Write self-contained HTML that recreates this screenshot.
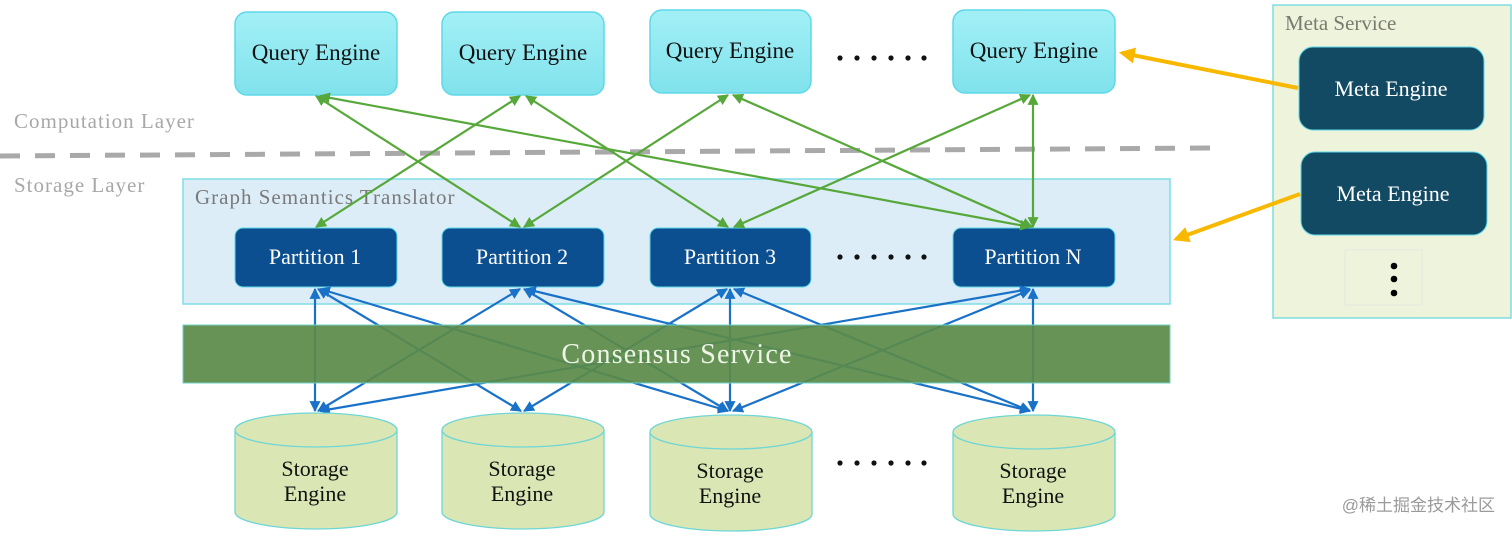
<!DOCTYPE html>
<html><head><meta charset="utf-8"><style>
body{margin:0;background:#fff;width:1512px;height:533px;overflow:hidden}
text{font-family:"Liberation Serif",serif}
</style></head><body>
<svg width="1512" height="533" viewBox="0 0 1512 533" xmlns="http://www.w3.org/2000/svg">
<defs>
<linearGradient id="qg" x1="0" y1="0" x2="0" y2="1"><stop offset="0" stop-color="#a3f0f6"/><stop offset="1" stop-color="#80e2ec"/></linearGradient>
<marker id="ga" viewBox="0 0 10 10" refX="9" refY="5" markerWidth="5" markerHeight="5" orient="auto-start-reverse"><path d="M0,0L10,5L0,10z" fill="#57a83a"/></marker>
<marker id="ba" viewBox="0 0 10 10" refX="9" refY="5" markerWidth="5" markerHeight="5" orient="auto-start-reverse"><path d="M0,0L10,5L0,10z" fill="#1a72c8"/></marker>
<marker id="ya" viewBox="0 0 10 10" refX="8" refY="5" markerWidth="4" markerHeight="4" orient="auto"><path d="M0,0L10,5L0,10z" fill="#f8b800"/></marker>
</defs>
<text x="14" y="128" font-size="21" letter-spacing="1" fill="#a8a8a8">Computation Layer</text>
<text x="14" y="192" font-size="21" letter-spacing="1" fill="#a8a8a8">Storage Layer</text>
<line x1="0" y1="156" x2="1212" y2="148" stroke="#a9a9a9" stroke-width="5" stroke-dasharray="20 15"/>
<rect x="183" y="179" width="987" height="125" fill="#dcedf7" stroke="#7fdde6" stroke-width="1.5"/>
<text x="195" y="204" font-size="21" letter-spacing="1" fill="#7a7a7a">Graph Semantics Translator</text>
<g fill="url(#qg)" stroke="#5ed8e8" stroke-width="1.5">
<rect x="235" y="12" width="162" height="83" rx="12"/>
<rect x="442" y="12" width="162" height="83" rx="12"/>
<rect x="650" y="10" width="161" height="83" rx="12"/>
<rect x="953" y="10" width="162" height="83" rx="12"/>
</g>
<g font-size="23" text-anchor="middle" fill="#111">
<text x="316" y="60">Query Engine</text><text x="523" y="60">Query Engine</text>
<text x="730" y="58">Query Engine</text><text x="1034" y="58">Query Engine</text>
</g>
<g fill="#0c4f90" stroke="#5ed8e8" stroke-width="1">
<rect x="235" y="228" width="162" height="59" rx="8"/>
<rect x="442" y="228" width="162" height="59" rx="8"/>
<rect x="650" y="228" width="161" height="59" rx="8"/>
<rect x="953" y="228" width="162" height="59" rx="8"/>
</g>
<g font-size="22" text-anchor="middle" fill="#fff">
<text x="315" y="264">Partition 1</text><text x="522" y="264">Partition 2</text>
<text x="730" y="264">Partition 3</text><text x="1033" y="264">Partition N</text>
</g>
<g stroke="#57a83a" stroke-width="2.2" marker-start="url(#ga)" marker-end="url(#ga)">
<line x1="316" y1="96" x2="520" y2="227"/>
<line x1="320" y1="96" x2="1030" y2="227"/>
<line x1="520" y1="96" x2="316" y2="227"/>
<line x1="526" y1="96" x2="728" y2="227"/>
<line x1="728" y1="95" x2="524" y2="227"/>
<line x1="733" y1="95" x2="1032" y2="227"/>
<line x1="1030" y1="95" x2="734" y2="227"/>
<line x1="1033" y1="95" x2="1033" y2="227"/>
</g>
<g stroke="#1a72c8" stroke-width="2.2" marker-start="url(#ba)" marker-end="url(#ba)">
<line x1="315" y1="289" x2="315" y2="411"/>
<line x1="318" y1="289" x2="521" y2="411"/>
<line x1="320" y1="289" x2="728" y2="411"/>
<line x1="520" y1="289" x2="318" y2="411"/>
<line x1="524" y1="289" x2="728" y2="411"/>
<line x1="526" y1="289" x2="1030" y2="411"/>
<line x1="727" y1="289" x2="524" y2="411"/>
<line x1="730" y1="289" x2="730" y2="411"/>
<line x1="734" y1="289" x2="1030" y2="411"/>
<line x1="1030" y1="289" x2="320" y2="411"/>
<line x1="1030" y1="290" x2="733" y2="411"/>
<line x1="1033" y1="289" x2="1033" y2="411"/>
</g>
<rect x="183" y="325" width="987" height="58" fill="#5a8a48" fill-opacity="0.92" stroke="#6fd0c8" stroke-width="1"/>
<text x="677" y="363" font-size="28" letter-spacing="1.2" text-anchor="middle" fill="#eef5e8">Consensus Service</text>
<g fill="#dbe6b5" stroke="#6fd6d6" stroke-width="1.3">
<path d="M235,430 v82 a81,17 0 0 0 162,0 v-82"/><ellipse cx="316" cy="430" rx="81" ry="17"/>
<path d="M442,430 v82 a81,17 0 0 0 162,0 v-82"/><ellipse cx="523" cy="430" rx="81" ry="17"/>
<path d="M650,432 v82 a81,17 0 0 0 162,0 v-82"/><ellipse cx="731" cy="432" rx="81" ry="17"/>
<path d="M953,432 v82 a81,17 0 0 0 162,0 v-82"/><ellipse cx="1034" cy="432" rx="81" ry="17"/>
</g>
<g font-size="22" text-anchor="middle" fill="#111">
<text x="315" y="476">Storage</text><text x="315" y="501">Engine</text>
<text x="522" y="476">Storage</text><text x="522" y="501">Engine</text>
<text x="730" y="478">Storage</text><text x="730" y="503">Engine</text>
<text x="1033" y="478">Storage</text><text x="1033" y="503">Engine</text>
</g>
<g fill="#111">
<g transform="translate(0,58)"><circle cx="840" cy="0" r="2.6"/><circle cx="857" cy="0" r="2.6"/><circle cx="874" cy="0" r="2.6"/><circle cx="891" cy="0" r="2.6"/><circle cx="908" cy="0" r="2.6"/><circle cx="924" cy="0" r="2.6"/></g>
<g transform="translate(0,257)"><circle cx="840" cy="0" r="2.6"/><circle cx="857" cy="0" r="2.6"/><circle cx="874" cy="0" r="2.6"/><circle cx="891" cy="0" r="2.6"/><circle cx="908" cy="0" r="2.6"/><circle cx="924" cy="0" r="2.6"/></g>
<g transform="translate(0,463)"><circle cx="840" cy="0" r="2.6"/><circle cx="857" cy="0" r="2.6"/><circle cx="874" cy="0" r="2.6"/><circle cx="891" cy="0" r="2.6"/><circle cx="908" cy="0" r="2.6"/><circle cx="924" cy="0" r="2.6"/></g>
</g>
<rect x="1273" y="5" width="238" height="313" fill="#eef3dc" stroke="#7fdde0" stroke-width="1.5"/>
<text x="1285" y="30" font-size="21" fill="#7a7a70">Meta Service</text>
<rect x="1299" y="47" width="185" height="83" rx="14" fill="#134a63" stroke="#5ed8e8" stroke-width="1"/>
<rect x="1301" y="152" width="186" height="83" rx="14" fill="#134a63" stroke="#5ed8e8" stroke-width="1"/>
<text x="1391" y="96" font-size="22" text-anchor="middle" fill="#fff">Meta Engine</text>
<text x="1393" y="201" font-size="22" text-anchor="middle" fill="#fff">Meta Engine</text>
<rect x="1345" y="250" width="77" height="55" fill="none" stroke="#e2eae0" stroke-width="1"/>
<circle cx="1394" cy="266" r="3.3" fill="#000"/><circle cx="1394" cy="279" r="3.3" fill="#000"/><circle cx="1394" cy="293" r="3.3" fill="#000"/>
<line x1="1298" y1="88" x2="1122" y2="53" stroke="#f8b800" stroke-width="4" marker-end="url(#ya)"/>
<line x1="1300" y1="194" x2="1176" y2="239" stroke="#f8b800" stroke-width="4" marker-end="url(#ya)"/>
<text x="1495" y="511" font-size="17" text-anchor="end" fill="#9a9a9a" style="font-family:'Liberation Sans','Noto Sans CJK SC',sans-serif">@稀土掘金技术社区</text>
</svg>
</body></html>
